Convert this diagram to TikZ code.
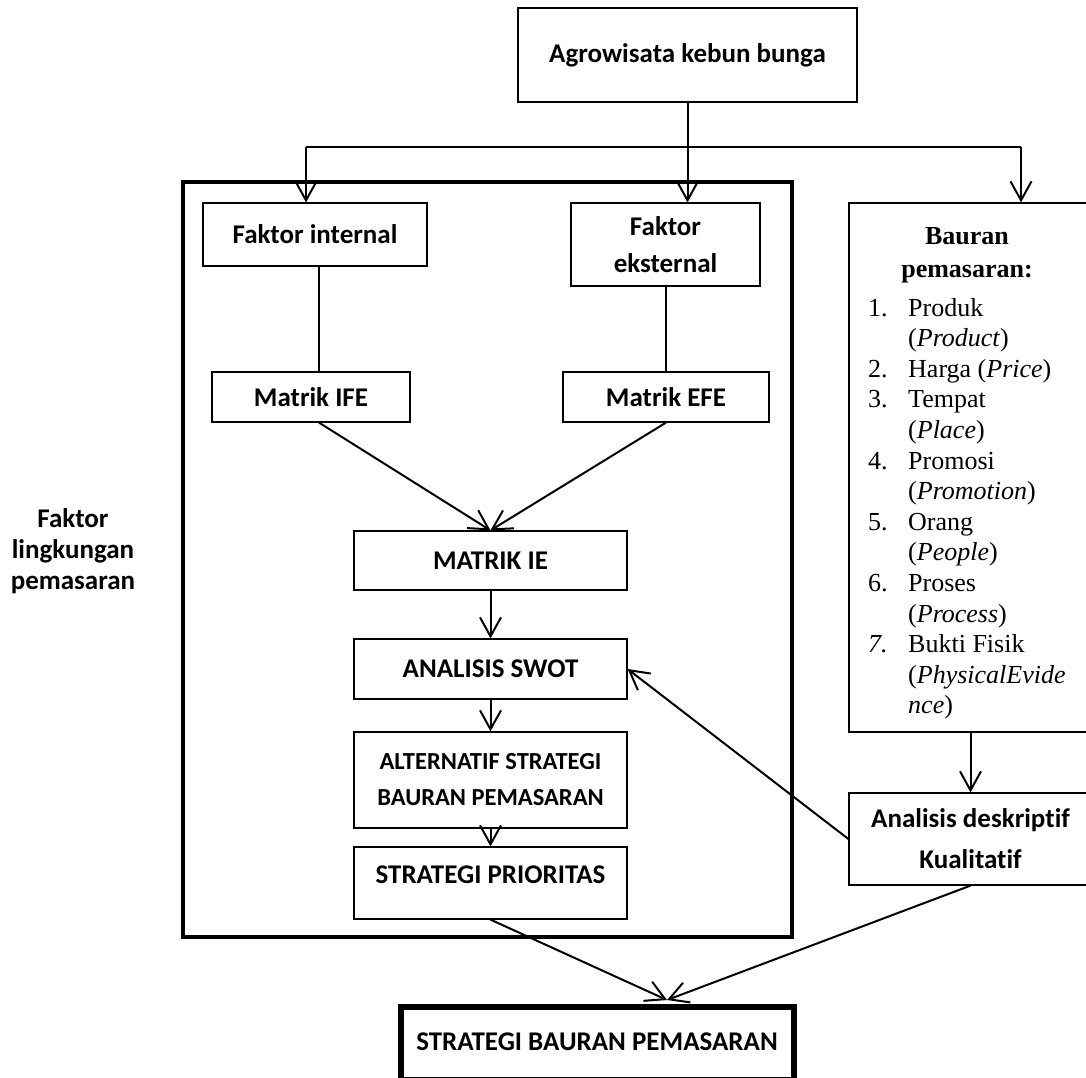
\documentclass[tikz,border=0pt]{standalone}
\usepackage{fontspec}
\setmainfont{Liberation Serif}
\newfontfamily\calib[Ligatures={NoCommon}]{Carlito}
\usetikzlibrary{arrows.meta}
\begin{document}
\begin{tikzpicture}[x=1pt,y=-1pt,
 box/.style={draw, line width=1.2pt, rectangle, inner sep=0pt, font=\calib\bfseries\fontsize{27}{37}\selectfont, align=center},
 conn/.style={line width=2pt},
 arr/.style={conn, -{Straight Barb[length=19pt,width=21pt,line width=2pt]}},
 txt/.style={inner sep=0pt, font=\calib\bfseries\fontsize{27}{31}\selectfont, align=center},
 ser/.style={inner sep=0pt, anchor=base west, font=\fontsize{26}{30}\selectfont},
 serb/.style={inner sep=0pt, anchor=base, font=\bfseries\fontsize{26}{30}\selectfont},
]
\useasboundingbox (0,0) rectangle (1086,1077);

% frame
\draw[line width=4pt] (183,182) rectangle (792,937);

% boxes
\node[box, minimum width=339pt, minimum height=94pt] (agro) at (687.5,55) {Agrowisata kebun bunga};
\node[box, minimum width=224pt, minimum height=63pt] (fi) at (315,234.5) {Faktor internal};
\node[box, minimum width=189pt, minimum height=83pt] (fe) at (665.5,244.5) {Faktor\\eksternal};
\node[box, minimum width=198pt, minimum height=50pt] (ifel) at (311,397) {Matrik IFE};
\node[box, minimum width=206pt, minimum height=50pt] (efe) at (666,397) {Matrik EFE};
\node[box, minimum width=273pt, minimum height=59pt] (ie) at (490.5,560.5) {MATRIK IE};
\node[box, minimum width=273pt, minimum height=60pt] (swot) at (490.5,669) {ANALISIS SWOT};
\node[box, minimum width=273pt, minimum height=96pt, font=\calib\bfseries\fontsize{24.5}{36}\selectfont] (alt) at (490.5,780) {ALTERNATIF STRATEGI\\BAURAN PEMASARAN};
\node[box, minimum width=273pt, minimum height=72pt] (prio) at (490.5,883) {};
\node[txt] (priot) at (490.5,875) {STRATEGI PRIORITAS};
\node[box, line width=6.5pt, minimum width=393pt, minimum height=73pt] (final) at (597.5,1043.5) {};
\node[txt] (finalt) at (597,1042) {STRATEGI BAURAN PEMASARAN};
\node[box, minimum width=243pt, minimum height=529pt] (bauran) at (970.5,467.5) {};
\node[box, minimum width=243pt, minimum height=92pt, font=\calib\bfseries\fontsize{27}{41}\selectfont] (ad) at (970.5,839) {Analisis deskriptif\\Kualitatif};

% left label
\node[txt] (lbl) at (73,551) {Faktor\\lingkungan\\pemasaran};

% Bauran text
\node[serb] (b1) at (967,244) {Bauran};
\node[serb] (b2) at (967,277) {pemasaran:};
\node[ser] (n1) at (868,316) {1.};
\node[ser] (t1) at (908,316) {Produk};
\node[ser] (t1b) at (908,346.6) {(\textit{Product})};
\node[ser] (n2) at (868,377.2) {2.};
\node[ser] (t2) at (908,377.2) {Harga (\textit{Price})};
\node[ser] (n3) at (868,407.8) {3.};
\node[ser] (t3) at (908,407.8) {Tempat};
\node[ser] (t3b) at (908,438.4) {(\textit{Place})};
\node[ser] (n4) at (868,469) {4.};
\node[ser] (t4) at (908,469) {Promosi};
\node[ser] (t4b) at (908,499.6) {(\textit{Promotion})};
\node[ser] (n5) at (868,530.2) {5.};
\node[ser] (t5) at (908,530.2) {Orang};
\node[ser] (t5b) at (908,560.8) {(\textit{People})};
\node[ser] (n6) at (868,591.4) {6.};
\node[ser] (t6) at (908,591.4) {Proses};
\node[ser] (t6b) at (908,622) {(\textit{Process})};
\node[ser] (n7) at (868,652.6) {\textit{7.}};
\node[ser] (t7) at (908,652.6) {Bukti Fisik};
\node[ser] (t7b) at (908,683.2) {(\textit{PhysicalEvide}};
\node[ser] (t7c) at (908,713.8) {\textit{nce})};

% connectors
\coordinate (hl) at (306,147);
\coordinate (hr) at (1021,147);
\coordinate (cx1) at (319,0);
\coordinate (ft) at (667,1000);

\draw[conn] (hl) -- (hr);
\draw[arr] (agro.south) -- (agro.south |- fe.north);
\draw[arr] (hl) -- (hl |- fi.north);
\draw[arr] (hr) -- (hr |- bauran.north);
\draw[conn] (fi.south -| cx1) -- (ifel.north -| cx1);
\draw[conn] (fe.south) -- (fe.south |- efe.north);
\draw[arr] (ifel.south -| cx1) -- (ie.north);
\draw[arr] (efe.south) -- (ie.north);
\draw[arr] (ie.south) -- (swot.north);
\draw[arr] (swot.south) -- (alt.north);
\draw[arr] (alt.south) -- (prio.north);
\draw[arr] (prio.south) -- (ft);
\draw[arr] (ad.south) -- (ft);
\draw[arr] (bauran.south) -- (ad.north);
\draw[arr] (ad.west) -- (swot.east);
\end{tikzpicture}
\end{document}
